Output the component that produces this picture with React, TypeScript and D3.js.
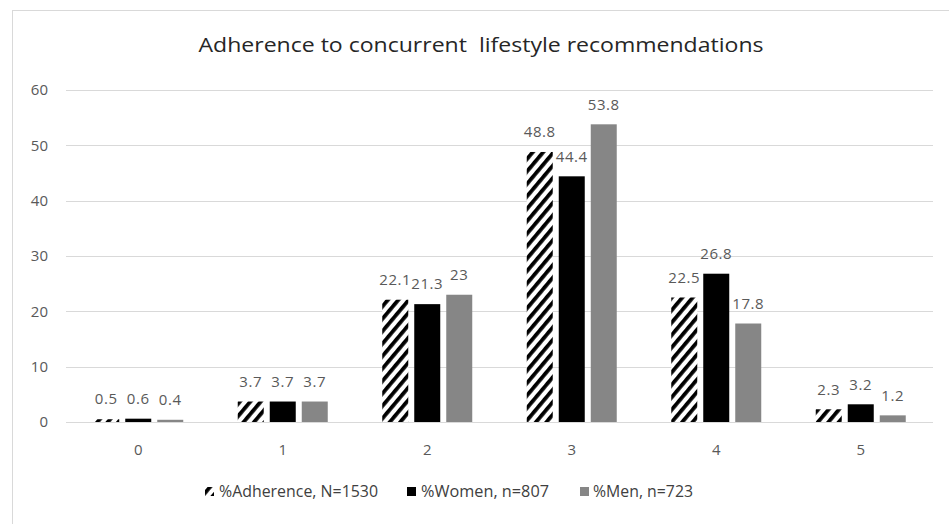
import React from "react";
import * as d3 from "d3";

const categories = ["0", "1", "2", "3", "4", "5"];
const adherence = [0.5, 3.7, 22.1, 48.8, 22.5, 2.3];
const women = [0.6, 3.7, 21.3, 44.4, 26.8, 3.2];
const men = [0.4, 3.7, 23, 53.8, 17.8, 1.2];
const yTicks = [0, 10, 20, 30, 40, 50, 60];
const seriesNames = ["%Adherence, N=1530", "%Women, n=807", "%Men, n=723"];
const title = "Adherence to concurrent  lifestyle recommendations";

const W = 949;
const H = 524;
const FONT = "'Open Sans', 'Liberation Sans', sans-serif";

export default function App() {
  const x = d3.scaleBand<string>().domain(categories).range([66, 933]).paddingInner(0).paddingOuter(0);
  const y = d3.scaleLinear().domain([0, 60]).range([422, 90]);
  const barW = 26;
  const gap = 6;
  const series = [adherence, women, men];
  const fills = ["url(#hatch)", "#000000", "#868686"];
  const legendX = [[205, 219, 159], [407, 421, 128], [580, 593, 100]];

  return (
    <svg width={W} height={H} style={{ position: "absolute", left: 0, top: 0, background: "#fff" }} fontFamily={FONT}>
      <defs>
        <pattern id="hatch" patternUnits="userSpaceOnUse" width="8" height="8" patternTransform="rotate(40)">
          <rect width="8" height="8" fill="#fff" />
          <rect x="0" y="0" width="3.8" height="8" fill="#000" />
        </pattern>
      </defs>
      <rect x={0} y={0} width={W} height={H} fill="#fff" />
      <rect x={12.5} y={10.5} width={W} height={H} fill="none" stroke="#d9d9d9" />
      <text x={481} y={52} textAnchor="middle" fontSize={19.5} fill="#262626" textLength={565} lengthAdjust="spacingAndGlyphs" style={{ whiteSpace: "pre" }}>
        {title}
      </text>
      {yTicks.map((t) => (
        <g key={t}>
          <line x1={66} x2={933} y1={Math.round(y(t)) + 0.5} y2={Math.round(y(t)) + 0.5} stroke="#d9d9d9" strokeWidth={1.2} />
          <text x={48} y={y(t)} dy="0.35em" textAnchor="end" fontSize={15} fill="#595959">
            {t}
          </text>
        </g>
      ))}
      {categories.map((c) => (
        <text key={c} x={(x(c) as number) + x.bandwidth() / 2} y={450} dy="0.35em" textAnchor="middle" fontSize={15} fill="#595959">
          {c}
        </text>
      ))}
      {series.map((vals, si) =>
        vals.map((v, i) => {
          const cx = (x(categories[i]) as number) + x.bandwidth() / 2;
          const bx = cx - (3 * barW + 2 * gap) / 2 + si * (barW + gap);
          return (
            <g key={`${si}-${i}`}>
              <rect x={bx} y={y(v)} width={barW} height={y(0) - y(v)} fill={fills[si]} />
              <text x={bx + barW / 2} y={y(v) - 20} dy="0.35em" textAnchor="middle" fontSize={15} letterSpacing={0.6} fill="#595959">
                {v}
              </text>
            </g>
          );
        })
      )}
      <g>
        {seriesNames.map((n, si) => (
          <g key={n}>
            <rect x={legendX[si][0]} y={487} width={9} height={9} fill={fills[si]} />
            <text x={legendX[si][1]} y={492} dy="0.35em" fontSize={15.5} fill="#404040" textLength={legendX[si][2]} lengthAdjust="spacingAndGlyphs">
              {n}
            </text>
          </g>
        ))}
      </g>
    </svg>
  );
}
